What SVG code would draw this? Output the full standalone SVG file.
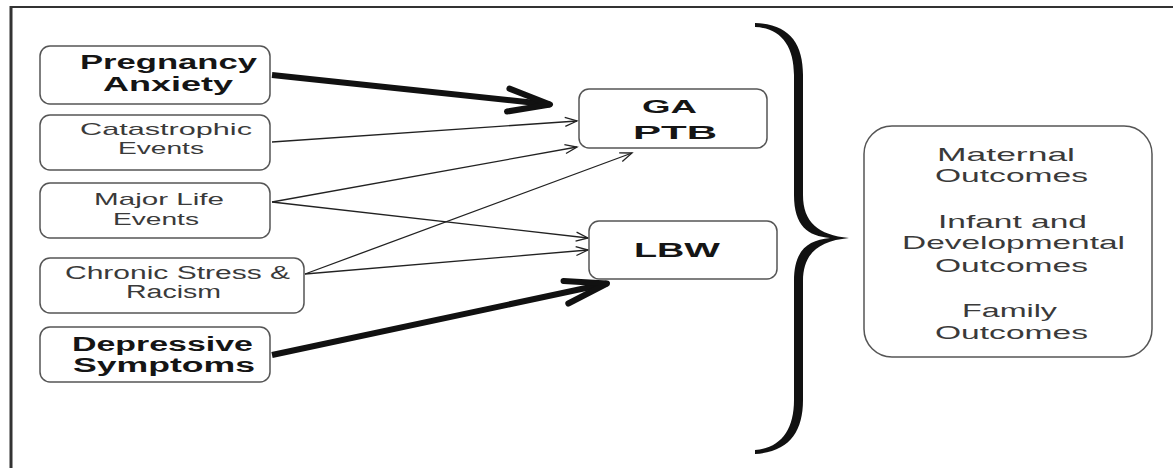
<svg xmlns="http://www.w3.org/2000/svg" width="1173" height="468" viewBox="0 0 1173 468">
<style>
.box{fill:#fff;stroke:#555;stroke-width:1.5}
.b{font-family:"Liberation Sans",Arial,sans-serif;font-weight:bold;fill:#151515}
.r{font-family:"Liberation Sans",Arial,sans-serif;fill:#3a3a3a}
.thin{fill:none;stroke:#222;stroke-width:1.3}
.thick{fill:none;stroke:#111;stroke-width:6}
</style>
<defs>
<marker id="hThin" viewBox="-15 -8 17 16" refX="0" refY="0" markerWidth="17" markerHeight="16" markerUnits="userSpaceOnUse" orient="auto">
<path d="M-12,-4.5 L0,0 L-12,4.5" fill="none" stroke="#222" stroke-width="1.3"/>
</marker>
<marker id="hThick" viewBox="-50 -20 56 40" refX="0" refY="0" markerWidth="56" markerHeight="40" markerUnits="userSpaceOnUse" orient="auto">
<path d="M-42,-11.5 L0,0 L-42,11.5" fill="none" stroke="#111" stroke-width="6" stroke-linejoin="round" stroke-linecap="round"/>
</marker>
</defs>
<rect width="1173" height="468" fill="#fff"/>
<g id="frame" fill="none" stroke="#333">
<line x1="10" y1="7" x2="1173" y2="7" stroke-width="2"/>
<line x1="11" y1="6" x2="11" y2="468" stroke-width="3"/>
</g>
<g id="connectors">
<line class="thick" x1="272" y1="75" x2="550" y2="104.5" marker-end="url(#hThick)"/>
<line class="thin" x1="272" y1="142" x2="577" y2="121" marker-end="url(#hThin)"/>
<line class="thin" x1="272" y1="202" x2="577" y2="147" marker-end="url(#hThin)"/>
<line class="thin" x1="272" y1="202" x2="588" y2="238" marker-end="url(#hThin)"/>
<line class="thin" x1="305" y1="274" x2="632" y2="153" marker-end="url(#hThin)"/>
<line class="thin" x1="305" y1="274" x2="588" y2="250" marker-end="url(#hThin)"/>
<line class="thick" x1="272" y1="355" x2="607" y2="283.5" marker-end="url(#hThick)"/>
</g>
<g id="brace">
<path d="M755,23 C789,24 803,43 803,75 L803,195 C803,222 818,235 849,238 C818,241 803,254 803,281 L803,400 C803,432 789,452 755,454 L755,450 C781,448 794,430 794,400 L794,281 C794,250 808,240 830,238 C808,236 794,226 794,195 L794,75 C794,46 781,28 755,27 Z" fill="#111"/>
</g>
<g id="pregnancy-anxiety">
<rect class="box" x="40" y="46" width="230" height="58" rx="10"/>
<text class="b" font-size="21" x="80" y="69" textLength="177" lengthAdjust="spacingAndGlyphs">Pregnancy</text>
<text class="b" font-size="21" x="103" y="90.5" textLength="130" lengthAdjust="spacingAndGlyphs">Anxiety</text>
</g>
<g id="catastrophic-events">
<rect class="box" x="40" y="115" width="230" height="55" rx="10"/>
<text class="r" font-size="17" x="80" y="135" textLength="172" lengthAdjust="spacingAndGlyphs">Catastrophic</text>
<text class="r" font-size="17" x="118" y="154" textLength="86" lengthAdjust="spacingAndGlyphs">Events</text>
</g>
<g id="major-life-events">
<rect class="box" x="40" y="183" width="230" height="55" rx="10"/>
<text class="r" font-size="17" x="94" y="205" textLength="130" lengthAdjust="spacingAndGlyphs">Major Life</text>
<text class="r" font-size="17" x="113" y="225" textLength="86" lengthAdjust="spacingAndGlyphs">Events</text>
</g>
<g id="chronic-stress">
<rect class="box" x="40" y="258" width="264" height="55" rx="10"/>
<text class="r" font-size="18" x="65" y="279" textLength="225" lengthAdjust="spacingAndGlyphs">Chronic Stress &amp;</text>
<text class="r" font-size="18" x="126" y="298" textLength="95" lengthAdjust="spacingAndGlyphs">Racism</text>
</g>
<g id="depressive-symptoms">
<rect class="box" x="40" y="327" width="230" height="55" rx="10"/>
<text class="b" font-size="20" x="72" y="351" textLength="181" lengthAdjust="spacingAndGlyphs">Depressive</text>
<text class="b" font-size="20" x="73" y="372" textLength="182" lengthAdjust="spacingAndGlyphs">Symptoms</text>
</g>
<g id="ga-ptb">
<rect class="box" x="579" y="89" width="188" height="59" rx="10"/>
<text class="b" font-size="19" x="642" y="113" textLength="55" lengthAdjust="spacingAndGlyphs">GA</text>
<text class="b" font-size="19" x="633" y="139" textLength="84" lengthAdjust="spacingAndGlyphs">PTB</text>
</g>
<g id="lbw">
<rect class="box" x="589" y="221" width="188" height="58" rx="10"/>
<text class="b" font-size="20" x="634" y="257" textLength="86" lengthAdjust="spacingAndGlyphs">LBW</text>
</g>
<g id="outcomes">
<rect class="box" x="864" y="126" width="288" height="231" rx="28"/>
<text class="r" font-size="19" x="937" y="161" textLength="138" lengthAdjust="spacingAndGlyphs">Maternal</text>
<text class="r" font-size="19" x="935" y="182" textLength="153" lengthAdjust="spacingAndGlyphs">Outcomes</text>
<text class="r" font-size="19" x="938" y="228" textLength="149" lengthAdjust="spacingAndGlyphs">Infant and</text>
<text class="r" font-size="19" x="902" y="249" textLength="223" lengthAdjust="spacingAndGlyphs">Developmental</text>
<text class="r" font-size="19" x="935" y="272" textLength="153" lengthAdjust="spacingAndGlyphs">Outcomes</text>
<text class="r" font-size="19" x="962" y="317" textLength="95" lengthAdjust="spacingAndGlyphs">Family</text>
<text class="r" font-size="19" x="935" y="339" textLength="153" lengthAdjust="spacingAndGlyphs">Outcomes</text>
</g>
</svg>
